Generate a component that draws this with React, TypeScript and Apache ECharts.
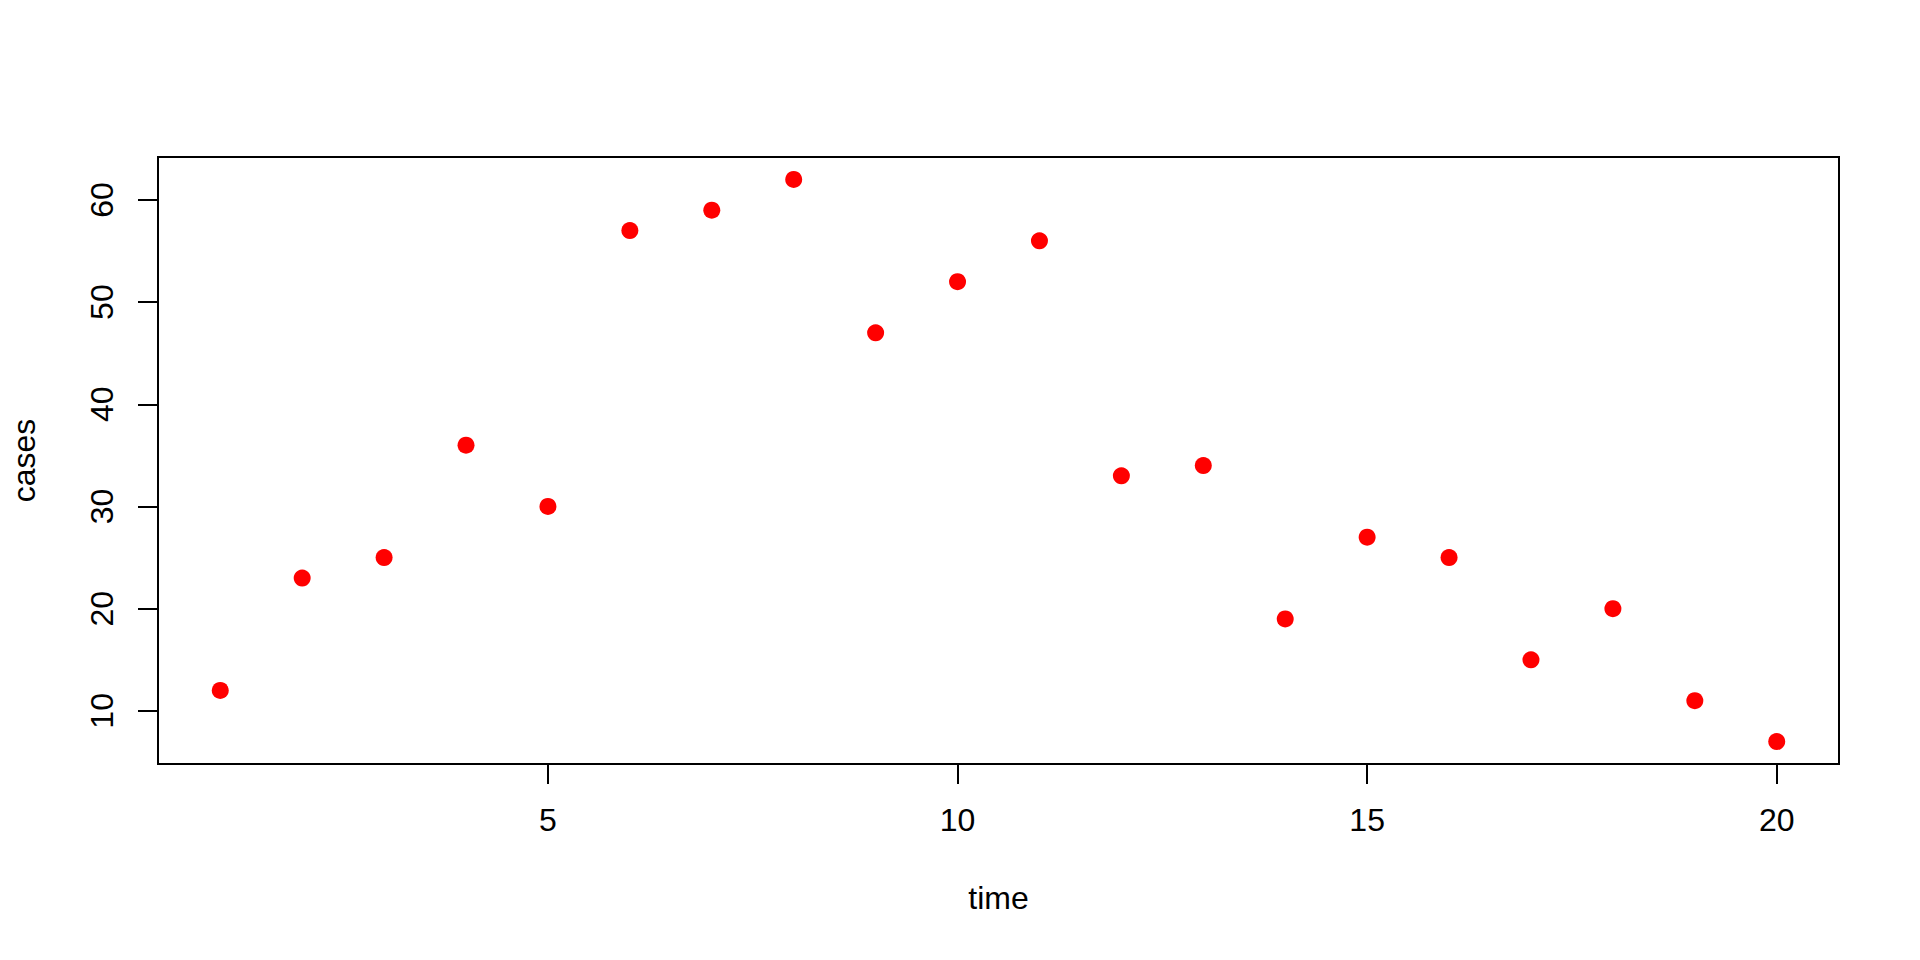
import React, { useEffect, useRef } from "react";
import * as echarts from "echarts";

const time = [1, 2, 3, 4, 5, 6, 7, 8, 9, 10, 11, 12, 13, 14, 15, 16, 17, 18, 19, 20];
const cases = [12, 23, 25, 36, 30, 57, 59, 62, 47, 52, 56, 33, 34, 19, 27, 25, 15, 20, 11, 7];
const xTicks = [5, 10, 15, 20];
const yTicks = [10, 20, 30, 40, 50, 60];

const FONT = "Liberation Sans, Arial, Helvetica, sans-serif";

export default function App() {
  const ref = useRef<HTMLDivElement>(null);
  useEffect(() => {
    if (!ref.current) return;
    const chart = echarts.init(ref.current, null, { renderer: "svg" });
    const xMin = Math.min(...time), xMax = Math.max(...time);
    const yMin = Math.min(...cases), yMax = Math.max(...cases);
    const xPad = (xMax - xMin) * 0.04;
    const yPad = (yMax - yMin) * 0.04;
    chart.setOption({
      animation: false,
      backgroundColor: "#ffffff",
      grid: {
        left: 157,
        top: 157,
        right: 81,
        bottom: 196,
        show: true,
        borderColor: "#000",
        borderWidth: 2,
        backgroundColor: "transparent",
      },
      xAxis: {
        type: "value",
        min: xMin - xPad,
        max: xMax + xPad,
        axisLine: { show: false },
        splitLine: { show: false },
        axisTick: {
          show: true,
          customValues: xTicks,
          length: 20,
          lineStyle: { color: "#000", width: 2 },
        },
        axisLabel: {
          customValues: xTicks,
          fontSize: 32,
          fontFamily: FONT,
          color: "#000",
          margin: 40,
        },
        name: "time",
        nameLocation: "middle",
        nameGap: 118,
        nameTextStyle: { fontSize: 32, fontFamily: FONT, color: "#000" },
      },
      yAxis: {
        type: "value",
        min: yMin - yPad,
        max: yMax + yPad,
        axisLine: { show: false },
        splitLine: { show: false },
        axisTick: {
          show: true,
          customValues: yTicks,
          length: 20,
          lineStyle: { color: "#000", width: 2 },
        },
        axisLabel: {
          customValues: yTicks,
          rotate: 90,
          fontSize: 32,
          fontFamily: FONT,
          color: "#000",
          margin: 40,
        },
        name: "cases",
        nameLocation: "middle",
        nameGap: 118,
        nameRotate: 90,
        nameTextStyle: { fontSize: 32, fontFamily: FONT, color: "#000" },
      },
      series: [
        {
          type: "scatter",
          data: time.map((t, i) => [t, cases[i]]),
          symbol: "circle",
          symbolSize: 17,
          itemStyle: { color: "#ff0000", opacity: 1 },
        },
      ],
    });
    return () => chart.dispose();
  }, []);
  return (
    <div
      ref={ref}
      style={{ position: "fixed", left: 0, top: 0, width: 1920, height: 960, background: "#fff" }}
    />
  );
}
